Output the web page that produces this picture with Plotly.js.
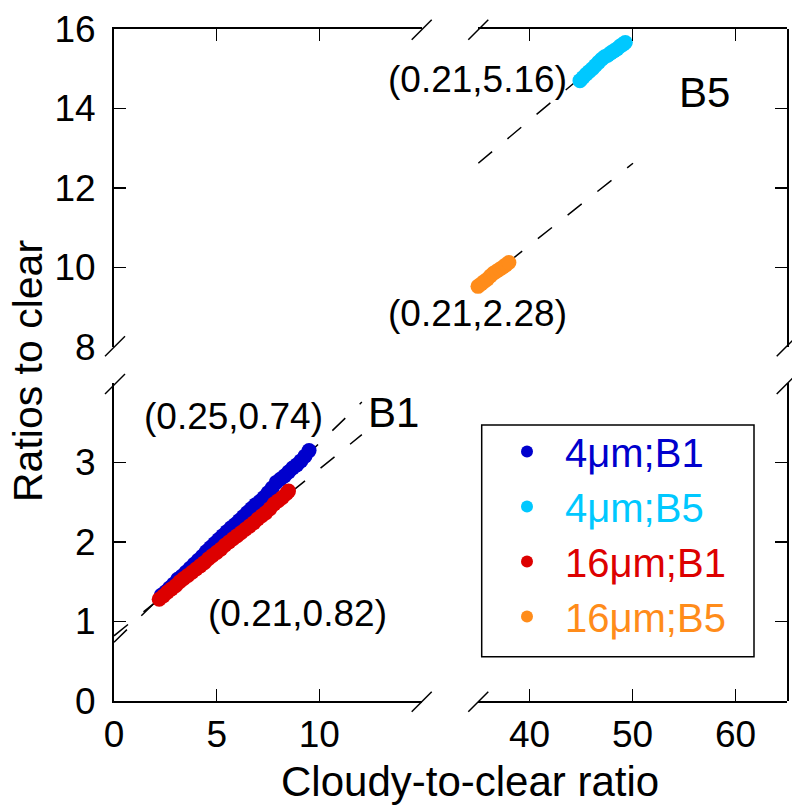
<!DOCTYPE html>
<html><head><meta charset="utf-8">
<script src="https://cdn.plot.ly/plotly-3.0.1.min.js"></script>
<style>html,body{margin:0;padding:0;background:#fff}</style>
</head><body><div id="chart" style="width:792px;height:806px"></div>
<script>
// ---- data ----
const seriesNames = ['4\u03bcm;B1', '4\u03bcm;B5', '16\u03bcm;B1', '16\u03bcm;B5'];
const seriesColors = ['#0000cd', '#00c8ff', '#dd0000', '#ff8c1a'];

const x4B1 = [2.3, 2.5, 2.7, 2.9, 3.1, 3.3, 3.5, 3.7, 3.9, 4.1, 4.3, 4.5, 4.7, 4.9, 5.1, 5.3, 5.5, 5.7, 5.9, 6.1, 6.3, 6.5, 6.7, 6.9, 7.1, 7.3, 7.5, 7.7, 7.9, 8.1, 8.3, 8.5, 8.7, 8.9, 9.1, 9.3, 9.5];
const y4B1 = [1.33, 1.37, 1.42, 1.47, 1.53, 1.57, 1.62, 1.67, 1.72, 1.77, 1.82, 1.88, 1.93, 1.98, 2.03, 2.08, 2.13, 2.18, 2.22, 2.27, 2.32, 2.37, 2.42, 2.47, 2.51, 2.56, 2.62, 2.68, 2.75, 2.79, 2.83, 2.88, 2.93, 2.97, 3.02, 3.08, 3.15];

const x16B1 = [2.2, 2.4, 2.6, 2.8, 3.0, 3.2, 3.4, 3.6, 3.8, 4.0, 4.2, 4.4, 4.6, 4.8, 5.0, 5.2, 5.4, 5.6, 5.8, 6.0, 6.2, 6.4, 6.6, 6.8, 7.0, 7.2, 7.4, 7.6, 7.8, 8.0, 8.2, 8.4, 8.5];
const y16B1 = [1.28, 1.32, 1.37, 1.41, 1.45, 1.50, 1.54, 1.58, 1.62, 1.66, 1.70, 1.74, 1.79, 1.83, 1.87, 1.91, 1.96, 2.00, 2.04, 2.08, 2.12, 2.16, 2.20, 2.24, 2.29, 2.33, 2.37, 2.42, 2.48, 2.52, 2.56, 2.61, 2.64];

const x4B5 = [44.9, 45.2, 45.5, 45.8, 46.1, 46.4, 46.7, 47.0, 47.3, 47.6, 47.9, 48.2, 48.5, 48.8, 49.1, 49.3];
const y4B5 = [14.70, 14.78, 14.86, 14.93, 15.00, 15.08, 15.16, 15.24, 15.30, 15.34, 15.40, 15.45, 15.50, 15.57, 15.62, 15.66];

const x16B5 = [35.0, 35.3, 35.6, 35.9, 36.2, 36.5, 36.8, 37.1, 37.4, 37.7, 38.0];
const y16B5 = [9.52, 9.58, 9.64, 9.70, 9.78, 9.85, 9.90, 9.95, 10.00, 10.06, 10.12];

// dashed fit lines (end points)
const fitXB1 = [0, 12.07];
const fit4B1Y = [0.74, 3.76];
const fit16B1Y = [0.82, 3.35];
const fit4B5X = [35.03, 49.3];
const fit4B5Y = [12.62, 15.72];
const fit16B5X = [35.03, 50.05];
const fit16B5Y = [9.53, 12.62];

const fitLabels = ['(0.25,0.74)', '(0.21,0.82)', '(0.21,5.16)', '(0.21,2.28)'];

// axis ticks
const xLeftTicks = [0, 5, 10, 15];
const xLeftText = ['0', '5', '10', ''];
const xRightTicks = [40, 50, 60];
const xRightText = ['40', '50', '60'];
const yLowTicks = [0, 1, 2, 3, 4];
const yLowText = ['0', '1', '2', '3', ''];
const yHighTicks = [8, 10, 12, 14, 16];
const yHighText = ['8', '10', '12', '14', '16'];

// ---- layout helpers ----
const FONT = 'Liberation Sans, Arial, Helvetica, sans-serif';
const ML = 114, MR = 5, MT = 29, MB = 105, WW = 792, HH = 806;
const PW = WW - ML - MR, PH = HH - MT - MB;
const px = X => (X - ML) / PW;
const py = Y => (HH - MB - Y) / PH;

const dashStyle = '18px,20px';
function fitTrace(xs, ys, xa, ya) {
  return {x: xs, y: ys, xaxis: xa, yaxis: ya, mode: 'lines', showlegend: false, hoverinfo: 'skip',
          line: {color: '#000', width: 1.5, dash: dashStyle}, cliponaxis: false};
}
function ptTrace(i, xs, ys, xa, ya) {
  return {x: xs, y: ys, xaxis: xa, yaxis: ya, mode: 'markers', type: 'scatter', cliponaxis: false,
          name: '<span style="color:' + seriesColors[i] + '">' + seriesNames[i] + '</span>',
          marker: {color: seriesColors[i], size: 15}, legendrank: i + 1};
}
function frameTrace(xa, ya) {
  return {x: [], y: [], xaxis: xa, yaxis: ya, mode: 'markers', showlegend: false, hoverinfo: 'skip'};
}

const data = [
  frameTrace('x3', 'y2'), frameTrace('x4', 'y2'), frameTrace('x2', 'y3'), frameTrace('x2', 'y4'),
  frameTrace('x', 'y2'), frameTrace('x2', 'y'),
  fitTrace(fitXB1, fit4B1Y, 'x', 'y'),
  fitTrace(fitXB1, fit16B1Y, 'x', 'y'),
  fitTrace(fit4B5X, fit4B5Y, 'x2', 'y2'),
  fitTrace(fit16B5X, fit16B5Y, 'x2', 'y2'),
  ptTrace(0, x4B1, y4B1, 'x', 'y'),
  ptTrace(1, x4B5, y4B5, 'x2', 'y2'),
  ptTrace(2, x16B1, y16B1, 'x', 'y'),
  ptTrace(3, x16B5, y16B5, 'x2', 'y2')
];

const axBase = {showline: true, linecolor: '#000', linewidth: 2, ticks: 'inside', ticklen: 12, tickwidth: 1.5,
  tickcolor: '#000', showgrid: false, zeroline: false, tickmode: 'array', fixedrange: true,
  tickfont: {family: FONT, size: 37, color: '#000'}};

const xLdom = [0, px(422)], xRdom = [px(478), 1];
const yBdom = [0, py(383)], yTdom = [py(346.7), 1];

const layout = {
  width: WW, height: HH, margin: {l: ML, r: MR, t: MT, b: MB},
  paper_bgcolor: '#fff', plot_bgcolor: 'rgba(0,0,0,0)',
  font: {family: FONT, color: '#000'},
  xaxis: Object.assign({}, axBase, {domain: xLdom, range: [0, 15], anchor: 'y', tickvals: xLeftTicks, ticktext: xLeftText}),
  xaxis2: Object.assign({}, axBase, {domain: xRdom, range: [35, 65], anchor: 'y', tickvals: xRightTicks, ticktext: xRightText}),
  xaxis3: Object.assign({}, axBase, {domain: xLdom, range: [0, 15], anchor: 'y2', side: 'top', tickvals: xLeftTicks, showticklabels: false}),
  xaxis4: Object.assign({}, axBase, {domain: xRdom, range: [35, 65], anchor: 'y2', side: 'top', tickvals: xRightTicks, showticklabels: false}),
  yaxis: Object.assign({}, axBase, {domain: yBdom, range: [0, 4], anchor: 'x', tickvals: yLowTicks, ticktext: yLowText, ticklabelstandoff: 9}),
  yaxis2: Object.assign({}, axBase, {domain: yTdom, range: [8, 16], anchor: 'x', tickvals: yHighTicks, ticktext: yHighText, ticklabelstandoff: 9}),
  yaxis3: Object.assign({}, axBase, {domain: yBdom, range: [0, 4], anchor: 'x2', side: 'right', tickvals: yLowTicks, showticklabels: false}),
  yaxis4: Object.assign({}, axBase, {domain: yTdom, range: [8, 16], anchor: 'x2', side: 'right', tickvals: yHighTicks, showticklabels: false}),
  showlegend: true,
  legend: {x: px(489), y: py(419), xanchor: 'left', yanchor: 'top', bgcolor: 'rgba(0,0,0,0)', borderwidth: 0,
           font: {family: FONT, size: 40}, itemsizing: 'constant', itemwidth: 66, traceorder: 'normal'},
  annotations: [
    {text: 'Cloudy-to-clear ratio', x: px(470), y: py(781), xref: 'paper', yref: 'paper', showarrow: false, xanchor: 'center', yanchor: 'middle', font: {size: 42, family: FONT}},
    {text: 'Ratios to clear', x: px(28), y: py(371), xref: 'paper', yref: 'paper', showarrow: false, textangle: -90, xanchor: 'center', yanchor: 'middle', font: {size: 41, family: FONT}},
    {text: fitLabels[0], x: px(233), y: py(417), xref: 'paper', yref: 'paper', showarrow: false, xanchor: 'center', yanchor: 'middle', font: {size: 37, family: FONT}},
    {text: fitLabels[1], x: px(297), y: py(613), xref: 'paper', yref: 'paper', showarrow: false, xanchor: 'center', yanchor: 'middle', font: {size: 37, family: FONT}},
    {text: fitLabels[2], x: px(477), y: py(80), xref: 'paper', yref: 'paper', showarrow: false, xanchor: 'center', yanchor: 'middle', font: {size: 37, family: FONT}},
    {text: fitLabels[3], x: px(477), y: py(313), xref: 'paper', yref: 'paper', showarrow: false, xanchor: 'center', yanchor: 'middle', font: {size: 37, family: FONT}},
    {text: 'B1', x: px(393), y: py(412), xref: 'paper', yref: 'paper', showarrow: false, xanchor: 'center', yanchor: 'middle', font: {size: 42, family: FONT}},
    {text: 'B5', x: px(704), y: py(92), xref: 'paper', yref: 'paper', showarrow: false, xanchor: 'center', yanchor: 'middle', font: {size: 42, family: FONT}}
  ],
  shapes: []
};

// axis-break slashes and legend frame
function slash(cx, cy) {
  return {type: 'line', xref: 'paper', yref: 'paper', x0: px(cx - 10), y0: py(cy + 10), x1: px(cx + 10), y1: py(cy - 10),
          line: {color: '#000', width: 1.5}};
}
[[421.7, 29.7], [478.3, 29.7], [421.7, 701.7], [478.3, 701.7],
 [115, 346.3], [115, 384], [786.7, 346.3], [786.7, 384]].forEach(p => layout.shapes.push(slash(p[0], p[1])));
layout.shapes.push({type: 'rect', xref: 'paper', yref: 'paper', x0: px(481.7), x1: px(754), y0: py(656.7), y1: py(425),
                    line: {color: '#000', width: 1.5}, fillcolor: 'rgba(0,0,0,0)'});

Plotly.newPlot('chart', data, layout, {displayModeBar: false, staticPlot: true});
</script></body></html>
